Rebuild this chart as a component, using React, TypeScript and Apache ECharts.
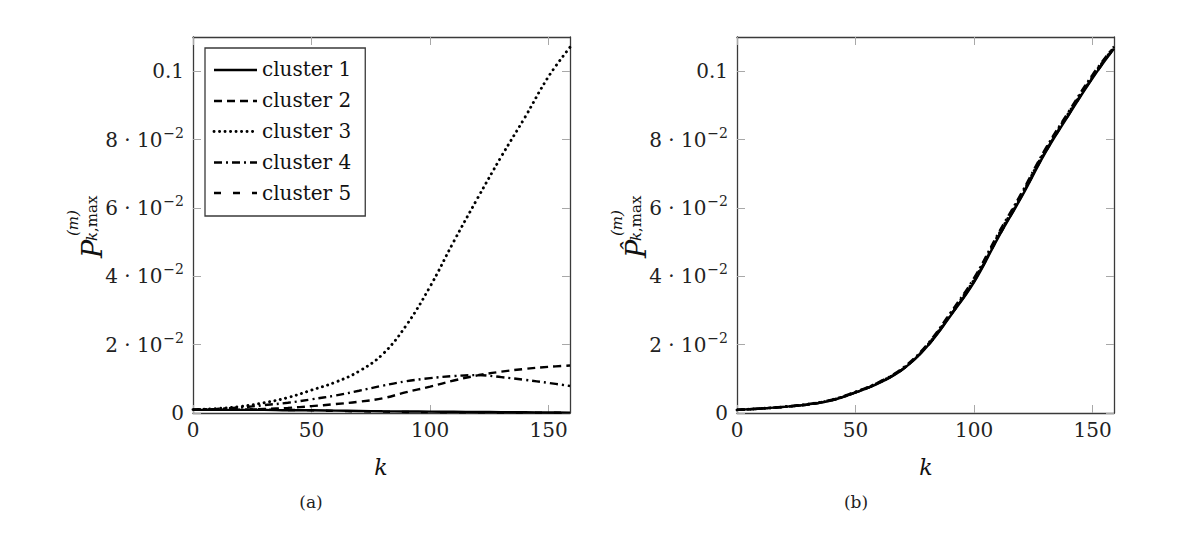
import React, { useEffect, useRef } from "react";
import * as echarts from "echarts";

const K = [0, 10, 20, 30, 40, 50, 60, 70, 80, 90, 100, 110, 120, 130, 140, 150, 159];

// (a) per-cluster values
const clusterA1 = [0.0009, 0.0009, 0.0009, 0.0009, 0.0008, 0.0008, 0.0007, 0.0006, 0.0005, 0.00045, 0.0004, 0.00035, 0.0003, 0.00025, 0.0002, 0.00015, 0.0001];
const clusterA2 = [0.001, 0.001, 0.001, 0.0012, 0.0015, 0.002, 0.0026, 0.0033, 0.0043, 0.0061, 0.0077, 0.0095, 0.011, 0.0121, 0.0129, 0.0135, 0.0139];
const clusterA3 = [0.001, 0.0013, 0.0019, 0.003, 0.0045, 0.0067, 0.009, 0.0122, 0.0172, 0.0257, 0.037, 0.0502, 0.0628, 0.075, 0.0865, 0.0985, 0.107];
const clusterA4 = [0.001, 0.0012, 0.0016, 0.0023, 0.003, 0.004, 0.0051, 0.0065, 0.008, 0.0093, 0.0102, 0.0108, 0.0111, 0.0105, 0.0097, 0.0088, 0.0079];
const clusterA5 = [0.001, 0.0011, 0.0011, 0.001, 0.0009, 0.0008, 0.0006, 0.0005, 0.0004, 0.0003, 0.00025, 0.0002, 0.0002, 0.00015, 0.0001, 0.0001, 0.0001];

// (b) per-cluster values
const clusterB1 = [0.0009, 0.0013, 0.0018, 0.0025, 0.0037, 0.006, 0.0088, 0.0128, 0.0193, 0.0284, 0.0383, 0.0511, 0.0632, 0.0761, 0.0873, 0.098, 0.1066];
const clusterB2 = [0.0009, 0.0013, 0.0018, 0.0025, 0.0038, 0.006, 0.0089, 0.0129, 0.0194, 0.0286, 0.0386, 0.0514, 0.0635, 0.0764, 0.0876, 0.0983, 0.1068];
const clusterB3 = [0.0009, 0.0013, 0.0018, 0.0026, 0.0038, 0.0061, 0.009, 0.013, 0.0196, 0.0289, 0.039, 0.0518, 0.0639, 0.0768, 0.0879, 0.0986, 0.107];
const clusterB4 = [0.0009, 0.0013, 0.0019, 0.0026, 0.0039, 0.0062, 0.0091, 0.0132, 0.0199, 0.0293, 0.0395, 0.0523, 0.0644, 0.0772, 0.0883, 0.099, 0.1072];
const clusterB5 = [0.0009, 0.0013, 0.0018, 0.0025, 0.0037, 0.006, 0.0088, 0.0129, 0.0194, 0.0285, 0.0385, 0.0512, 0.0634, 0.0762, 0.0874, 0.0981, 0.1067];

const clusterNames = ["cluster 1", "cluster 2", "cluster 3", "cluster 4", "cluster 5"];
const xTicks = [0, 50, 100, 150];
const yTicks = [0, 0.02, 0.04, 0.06, 0.08, 0.1];

const FONT = "DejaVu Serif";
const dashStyles: any[] = [
  { type: "solid", width: 2.4 },
  { type: [8, 5], cap: "butt", width: 2.4 },
  { type: [0.1, 5.4], cap: "round", width: 2.9 },
  { type: [8, 4, 2, 4], cap: "butt", width: 2.4 },
  { type: [7, 12], cap: "butt", width: 2.4 },
];

function yFmt(v: number) {
  if (Math.abs(v) < 1e-9) return "0";
  if (Math.abs(v - 0.1) < 1e-9) return "0.1";
  const n = Math.round(v * 100);
  return `{a|${n} · 10}{s|−2}`;
}

function App() {
  const ref = useRef<HTMLDivElement>(null);
  useEffect(() => {
    if (!ref.current) return;
    const chart = echarts.init(ref.current, undefined, { renderer: "svg" });
    const grids = [
      { left: 193, top: 37, width: 377, height: 376 },
      { left: 737, top: 37, width: 377, height: 376 },
    ];
    const frame = { show: true, onZero: false, lineStyle: { color: "#3a3a3a", width: 1.3 } };
    const tick = (vals: number[]) => ({
      show: true,
      inside: true,
      length: 8,
      customValues: vals,
      lineStyle: { color: "#a8a8a8", width: 1 },
    });
    const xAxes: any[] = [];
    const yAxes: any[] = [];
    for (let g = 0; g < 2; g++) {
      xAxes.push({
        type: "value", gridIndex: g, min: 0, max: 159, interval: 50, position: "bottom",
        axisLine: frame, axisTick: tick(xTicks), splitLine: { show: false },
        axisLabel: { customValues: xTicks, fontFamily: FONT, fontSize: 20, color: "#222", margin: 7 },
      });
      xAxes.push({
        type: "value", gridIndex: g, min: 0, max: 159, interval: 50, position: "top",
        axisLine: frame, axisTick: tick(xTicks), splitLine: { show: false },
        axisLabel: { show: false },
      });
      yAxes.push({
        type: "value", gridIndex: g, min: 0, max: 0.11, interval: 0.02, position: "left",
        axisLine: frame, axisTick: tick(yTicks), splitLine: { show: false },
        axisLabel: {
          customValues: yTicks, formatter: yFmt, fontFamily: FONT, fontSize: 20, color: "#222", margin: 9,
          rich: {
            a: { fontFamily: FONT, fontSize: 20, color: "#222" },
            s: { fontFamily: FONT, fontSize: 14, color: "#222", padding: [0, 0, 14, 1] },
          },
        },
      });
      yAxes.push({
        type: "value", gridIndex: g, min: 0, max: 0.11, interval: 0.02, position: "right",
        axisLine: frame, axisTick: tick(yTicks), splitLine: { show: false },
        axisLabel: { show: false },
      });
    }
    const setA = [clusterA1, clusterA2, clusterA3, clusterA4, clusterA5];
    const setB = [clusterB1, clusterB2, clusterB3, clusterB4, clusterB5];
    const series: any[] = [];
    [setA, setB].forEach((set, g) => {
      set.forEach((vals, i) => {
        series.push({
          type: "line",
          name: clusterNames[i],
          xAxisIndex: g * 2,
          yAxisIndex: g * 2,
          data: K.map((k, j) => [k, vals[j]]),
          smooth: 0.4,
          showSymbol: false,
          symbol: "none",
          lineStyle: { color: "#000", ...dashStyles[i] },
          itemStyle: { color: "#000" },
          z: 3,
        });
      });
    });

    const yTitle = (x0: number, y0: number, hat: boolean) => ({
      type: "group",
      x: x0,
      y: y0,
      rotation: Math.PI / 2,
      children: [
        { type: "text", x: 0, y: 0, style: { text: hat ? "P\u0302" : "P", font: `italic 27px "${FONT}"`, fill: "#111", textVerticalAlign: "alphabetic" } },
        { type: "text", x: 22, y: -14, style: { text: "(m)", font: `italic 15px "${FONT}"`, fill: "#111", textVerticalAlign: "alphabetic" } },
        { type: "text", x: 17, y: 5, style: { text: "k", font: `italic 15px "${FONT}"`, fill: "#111", textVerticalAlign: "alphabetic" } },
        { type: "text", x: 26, y: 5, style: { text: ",max", font: `15px "${FONT}"`, fill: "#111", textVerticalAlign: "alphabetic" } },
      ],
    });

    // legend sample lines (drawn by hand so dash patterns are exact)
    const legendRowY = [70, 101, 131.5, 162.5, 193];
    const legendIcons = legendRowY.map((y, i) => ({
      type: "line",
      z: 20,
      shape: { x1: 214, y1: y, x2: 257, y2: y },
      style: {
        stroke: "#000",
        lineWidth: dashStyles[i].width,
        lineDash: dashStyles[i].type === "solid" ? null : dashStyles[i].type,
        lineCap: dashStyles[i].cap || "butt",
      },
    }));

    chart.setOption({
      animation: false,
      backgroundColor: "#fff",
      grid: grids,
      xAxis: xAxes,
      yAxis: yAxes,
      series,
      legend: {
        data: clusterNames,
        orient: "vertical",
        left: 205,
        top: 48,
        icon: "rect",
        itemWidth: 44,
        itemHeight: 14,
        itemGap: 7,
        padding: [9, 14, 11, 8],
        backgroundColor: "#fff",
        borderColor: "#3a3a3a",
        borderWidth: 1.3,
        borderRadius: 0,
        selectedMode: false,
        itemStyle: { opacity: 0, borderWidth: 0 },
        lineStyle: { opacity: 0 },
        textStyle: { fontFamily: FONT, fontSize: 20, color: "#111", lineHeight: 24 },
        z: 10,
      },
      graphic: [
        ...legendIcons,
        yTitle(79, 258, false),
        yTitle(623, 258, true),
        { type: "text", x: 381, y: 467, style: { text: "k", font: `italic 22px "${FONT}"`, fill: "#111", textAlign: "center", textVerticalAlign: "middle" } },
        { type: "text", x: 926, y: 467, style: { text: "k", font: `italic 22px "${FONT}"`, fill: "#111", textAlign: "center", textVerticalAlign: "middle" } },
        { type: "text", x: 311, y: 502, style: { text: "(a)", font: `17px "${FONT}"`, fill: "#222", textAlign: "center", textVerticalAlign: "middle" } },
        { type: "text", x: 856, y: 502, style: { text: "(b)", font: `17px "${FONT}"`, fill: "#222", textAlign: "center", textVerticalAlign: "middle" } },
      ],
    });
    return () => chart.dispose();
  }, []);
  return <div ref={ref} style={{ position: "fixed", left: 0, top: 0, width: 1200, height: 538 }} />;
}

export default App;
